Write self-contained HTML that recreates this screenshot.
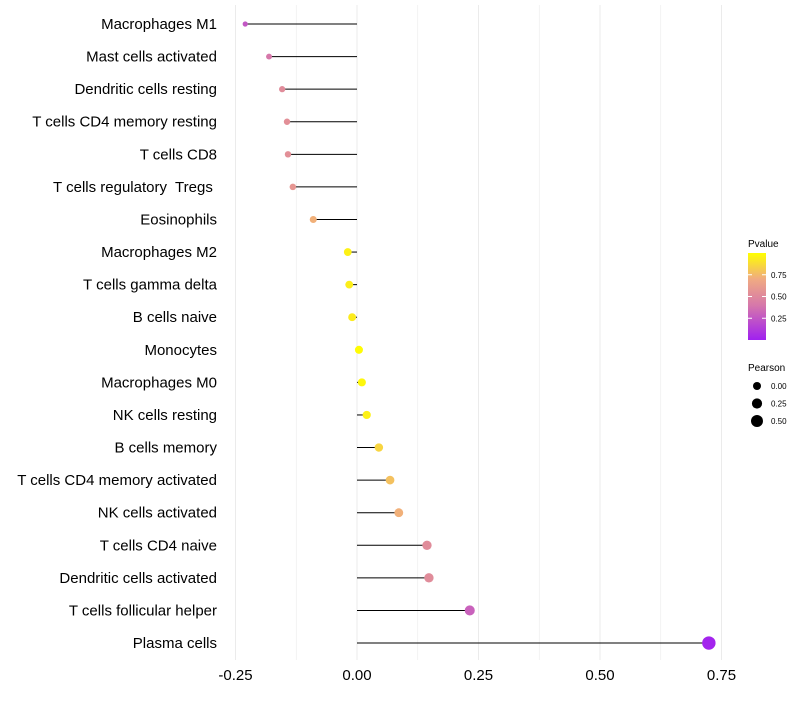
<!DOCTYPE html>
<html><head><meta charset="utf-8"><style>
body{margin:0;background:#fff;}
svg text{font-family:"Liberation Sans",sans-serif;white-space:pre;}
</style></head><body>
<svg id="chart" width="800" height="700"></svg>
<script>
const categories=["Macrophages M1","Mast cells activated","Dendritic cells resting","T cells CD4 memory resting","T cells CD8","T cells regulatory  Tregs ","Eosinophils","Macrophages M2","T cells gamma delta","B cells naive","Monocytes","Macrophages M0","NK cells resting","B cells memory","T cells CD4 memory activated","NK cells activated","T cells CD4 naive","Dendritic cells activated","T cells follicular helper","Plasma cells"];
const pearson=[-0.23,-0.181,-0.154,-0.144,-0.142,-0.132,-0.09,-0.019,-0.016,-0.01,0.004,0.01,0.02,0.045,0.068,0.086,0.144,0.148,0.232,0.724];
const pvalues=[0.25,0.4,0.52,0.54,0.54,0.58,0.72,0.95,0.94,0.93,0.99,0.97,0.95,0.85,0.78,0.72,0.52,0.52,0.3,0.02];
const xTicks=[-0.25,0,0.25,0.5,0.75];
const xTickLabels=["-0.25","0.00","0.25","0.50","0.75"];
const NS="http://www.w3.org/2000/svg";
const svg=document.getElementById('chart');
const x=v=>357+v*486;
const y=i=>24+i*32.58;
function mk(t,a,p){const e=document.createElementNS(NS,t);for(const k in a)e.setAttribute(k,a[k]);(p||svg).appendChild(e);return e;}
function lerp(a,b,t){return a.map((v,i)=>Math.round(v+(b[i]-v)*t));}
function col(p){const s=[[160,32,240],[214,120,170],[240,170,130],[255,255,0]];const st=[0,0.4,0.7,1];for(let i=0;i<3;i++){if(p<=st[i+1]){const c=lerp(s[i],s[i+1],(p-st[i])/(st[i+1]-st[i]));return `rgb(${c})`;}}return 'rgb(255,255,0)';}
function rad(v){return Math.sqrt(Math.max(2,16+40*v));}
for(let v=-0.25;v<=0.751;v+=0.125){const g=mk('line',{x1:x(v),x2:x(v),y1:5,y2:660,stroke:'#ebebeb','stroke-width':Math.abs((v*4)%1)<0.01?1:0.6});}
xTicks.forEach((v,i)=>{const t=mk('text',{x:x(v),y:680,'text-anchor':'middle','font-size':15,fill:'#000'});t.textContent=xTickLabels[i];});
categories.forEach((c,i)=>{
 const t=mk('text',{x:217,y:y(i)+5,'text-anchor':'end','font-size':15,fill:'#000'});t.textContent=c;
 
 const l=mk('line',{x1:x(0),x2:x(pearson[i]),y1:y(i),y2:y(i),stroke:'#000','stroke-width':1});
 
 const d=mk('circle',{cx:x(pearson[i]),cy:y(i),r:rad(pearson[i]),fill:col(pvalues[i])});
 
});
const defs=mk('defs',{});const lg=mk('linearGradient',{id:'pg',x1:0,y1:1,x2:0,y2:0},defs);
[[0,0],[0.4,0.4],[0.7,0.7],[1,1]].forEach(s=>mk('stop',{offset:s[0],'stop-color':col(s[1])},lg));
const lt=mk('text',{x:748,y:247,'font-size':10});lt.textContent='Pvalue';
const cb=mk('rect',{x:748,y:253,width:18,height:87,fill:'url(#pg)'});
[[0.75,"0.75"],[0.5,"0.50"],[0.25,"0.25"]].forEach(a=>{const yy=340-a[0]*87;mk('line',{x1:748,x2:752,y1:yy,y2:yy,stroke:'#fff'});mk('line',{x1:762,x2:766,y1:yy,y2:yy,stroke:'#fff'});const t=mk('text',{x:771,y:yy+3,'font-size':8});t.textContent=a[1];});
const st=mk('text',{x:748,y:371,'font-size':10});st.textContent='Pearson';
[[0,"0.00"],[0.25,"0.25"],[0.5,"0.50"]].forEach((a,i)=>{const yy=386+i*17.5;const c=mk('circle',{cx:757,cy:yy,r:rad(a[0]),fill:'#000'});const t=mk('text',{x:771,y:yy+3,'font-size':8});t.textContent=a[1];});
</script>
</body></html>
